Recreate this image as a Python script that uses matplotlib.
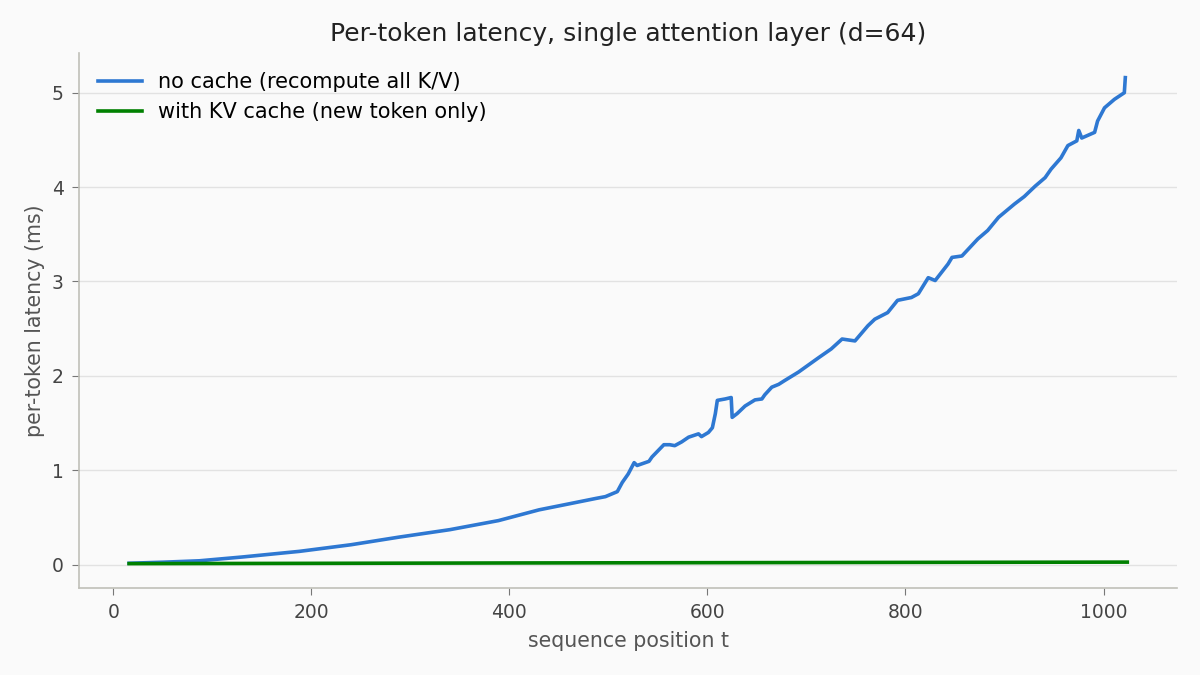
import matplotlib.pyplot as plt

# sequence positions and per-token latency (ms)
t_nocache = [16, 50, 87, 130, 188, 240, 288, 340, 389, 430, 460, 487, 497, 509, 514, 520,
             526, 529, 541, 544, 556, 562, 567, 574, 581, 591, 594, 601, 605, 608, 610,
             618, 624, 625, 630, 638, 648, 655, 658, 665, 672, 678, 692, 712, 725, 736,
             749, 762, 769, 782, 792, 806, 813, 823, 830, 843, 847, 857, 873, 883, 894,
             910, 920, 931, 941, 947, 957, 964, 973, 975, 978, 991, 994, 1001, 1011,
             1021, 1022]
lat_nocache = [0.014, 0.025, 0.04, 0.08, 0.14, 0.21, 0.29, 0.37, 0.466, 0.58, 0.643, 0.70,
               0.72, 0.773, 0.87, 0.96, 1.08, 1.05, 1.094, 1.14, 1.27, 1.27, 1.26, 1.30,
               1.35, 1.385, 1.356, 1.40, 1.45, 1.60, 1.74, 1.755, 1.77, 1.56, 1.60, 1.68,
               1.745, 1.755, 1.80, 1.88, 1.91, 1.95, 2.04, 2.19, 2.285, 2.39, 2.37, 2.53,
               2.60, 2.67, 2.80, 2.83, 2.87, 3.04, 3.01, 3.185, 3.255, 3.27, 3.45, 3.54,
               3.68, 3.82, 3.90, 4.01, 4.10, 4.19, 4.31, 4.44, 4.49, 4.60, 4.52, 4.58,
               4.70, 4.84, 4.93, 5.00, 5.16]

t_cache = [16, 200, 400, 600, 800, 1024]
lat_cache = [0.010, 0.013, 0.017, 0.020, 0.023, 0.026]

plt.rcParams['font.family'] = ['DejaVu Sans']
fig = plt.figure(figsize=(12, 6.75), dpi=100, facecolor='#fafafa')
ax = fig.add_axes([0.066, 0.129, 0.915, 0.792], facecolor='#fafafa')

ax.plot(t_nocache, lat_nocache, color='#2e78d2', lw=2.6, label='no cache (recompute all K/V)')
ax.plot(t_cache, lat_cache, color='green', lw=2.6, label='with KV cache (new token only)')

ax.set_title('Per-token latency, single attention layer (d=64)', fontsize=18,
             color='#222222', pad=9)
ax.set_xlabel('sequence position t', fontsize=14.8, color='#555555', labelpad=6)
ax.set_ylabel('per-token latency (ms)', fontsize=14.8, color='#555555', labelpad=5)
ax.tick_params(labelsize=13.5, colors='#444444', length=5, pad=6)
ax.tick_params(color='#777777')
ax.grid(axis='y', color='#e2e2e2', lw=1)
ax.set_axisbelow(True)
for s in ['top', 'right']:
    ax.spines[s].set_visible(False)
for s in ['left', 'bottom']:
    ax.spines[s].set_color('#c0c0b8')
    ax.spines[s].set_linewidth(1.2)

ax.legend(loc='upper left', frameon=False, fontsize=15, handlelength=2.1)

plt.savefig('out.png', dpi=100, facecolor='#fafafa')
plt.close()
